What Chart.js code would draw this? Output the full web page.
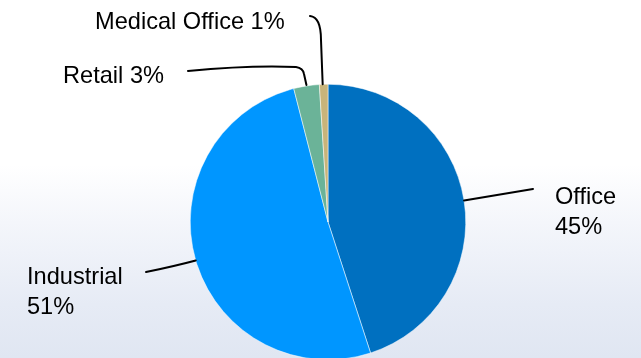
<!DOCTYPE html>
<html>
<head>
<meta charset="utf-8">
<script src="https://cdn.jsdelivr.net/npm/chart.js@4"></script>
<style>
  html, body { margin: 0; padding: 0; overflow: hidden; }
  body {
    width: 641px; height: 358px;
    background: linear-gradient(to bottom, #ffffff 0%, #ffffff 46%, #f4f6fb 62%, #e6ebf5 85%, #e0e6f2 100%);
  }
  #wrap { position: relative; width: 641px; height: 362px; }
</style>
</head>
<body>
<div id="wrap"><canvas id="grafico"></canvas></div>
<script>
  const categorias = ["Office", "Industrial", "Retail", "Medical Office"];
  const percentagens = [45, 51, 3, 1];
  const cores = ["#0070c0", "#0096ff", "#6bb398", "#c8b47a"];

  // posicao dos rotulos e guias (texto, cotovelo da linha, fim da linha)
  const rotulos = [
    { x: 555, y: 204, duasLinhas: true,  guia: a => [[a.x, a.y], [533, 189]] },
    { x: 27,  y: 284, duasLinhas: true,  guia: a => [[a.x, a.y], [175, 266, 'q'], [146, 272]] },
    { x: 63,  y: 83,  duasLinhas: false, guia: a => [[a.x, a.y - 1], [304, 74], [303, 68, 'q'], [296, 67], [250, 65, 'q'], [188, 71]] },
    { x: 95,  y: 29,  duasLinhas: false, guia: a => [[a.x - 1, a.y], [321, 40], [321, 17, 'q'], [310, 16]] }
  ];

  const pluginRotulos = {
    id: 'rotulos',
    afterDraw(chart) {
      const ctx = chart.ctx;
      const arcos = chart.getDatasetMeta(0).data;
      ctx.save();
      ctx.strokeStyle = '#000';
      ctx.lineWidth = 2;
      ctx.lineCap = 'round';
      ctx.lineJoin = 'round';
      arcos.forEach((arco, i) => {
        const meio = (arco.startAngle + arco.endAngle) / 2;
        const ancora = {
          x: arco.x + Math.cos(meio) * arco.outerRadius,
          y: arco.y + Math.sin(meio) * arco.outerRadius
        };
        const pts = rotulos[i].guia(ancora);
        ctx.beginPath();
        ctx.moveTo(pts[0][0], pts[0][1]);
        for (let k = 1; k < pts.length; k++) {
          if (pts[k][2] === 'q') {
            ctx.quadraticCurveTo(pts[k][0], pts[k][1], pts[k + 1][0], pts[k + 1][1]);
            k++;
          } else {
            ctx.lineTo(pts[k][0], pts[k][1]);
          }
        }
        ctx.stroke();
      });

      ctx.fillStyle = '#000';
      ctx.font = '23.6px "Liberation Sans", Arial, sans-serif';
      ctx.textBaseline = 'alphabetic';
      ctx.textAlign = 'left';
      categorias.forEach((cat, i) => {
        const r = rotulos[i];
        const pct = percentagens[i] + '%';
        if (r.duasLinhas) {
          ctx.fillText(cat, r.x, r.y);
          ctx.fillText(pct, r.x, r.y + 30);
        } else {
          ctx.fillText(cat + ' ' + pct, r.x, r.y);
        }
      });
      ctx.restore();
    }
  };

  const ctx = document.getElementById('grafico').getContext('2d');
  const grafico = new Chart(ctx, {
    type: 'pie',
    data: {
      labels: categorias,
      datasets: [{
        data: percentagens,
        backgroundColor: cores,
        borderColor: '#ffffff',
        borderWidth: 0.5
      }]
    },
    options: {
      responsive: true,
      maintainAspectRatio: false,
      animation: false,
      layout: { padding: { top: 84, bottom: 2, left: 100, right: 85 } },
      plugins: {
        legend: { display: false },
        tooltip: { enabled: false }
      }
    },
    plugins: [pluginRotulos]
  });
</script>
</body>
</html>
